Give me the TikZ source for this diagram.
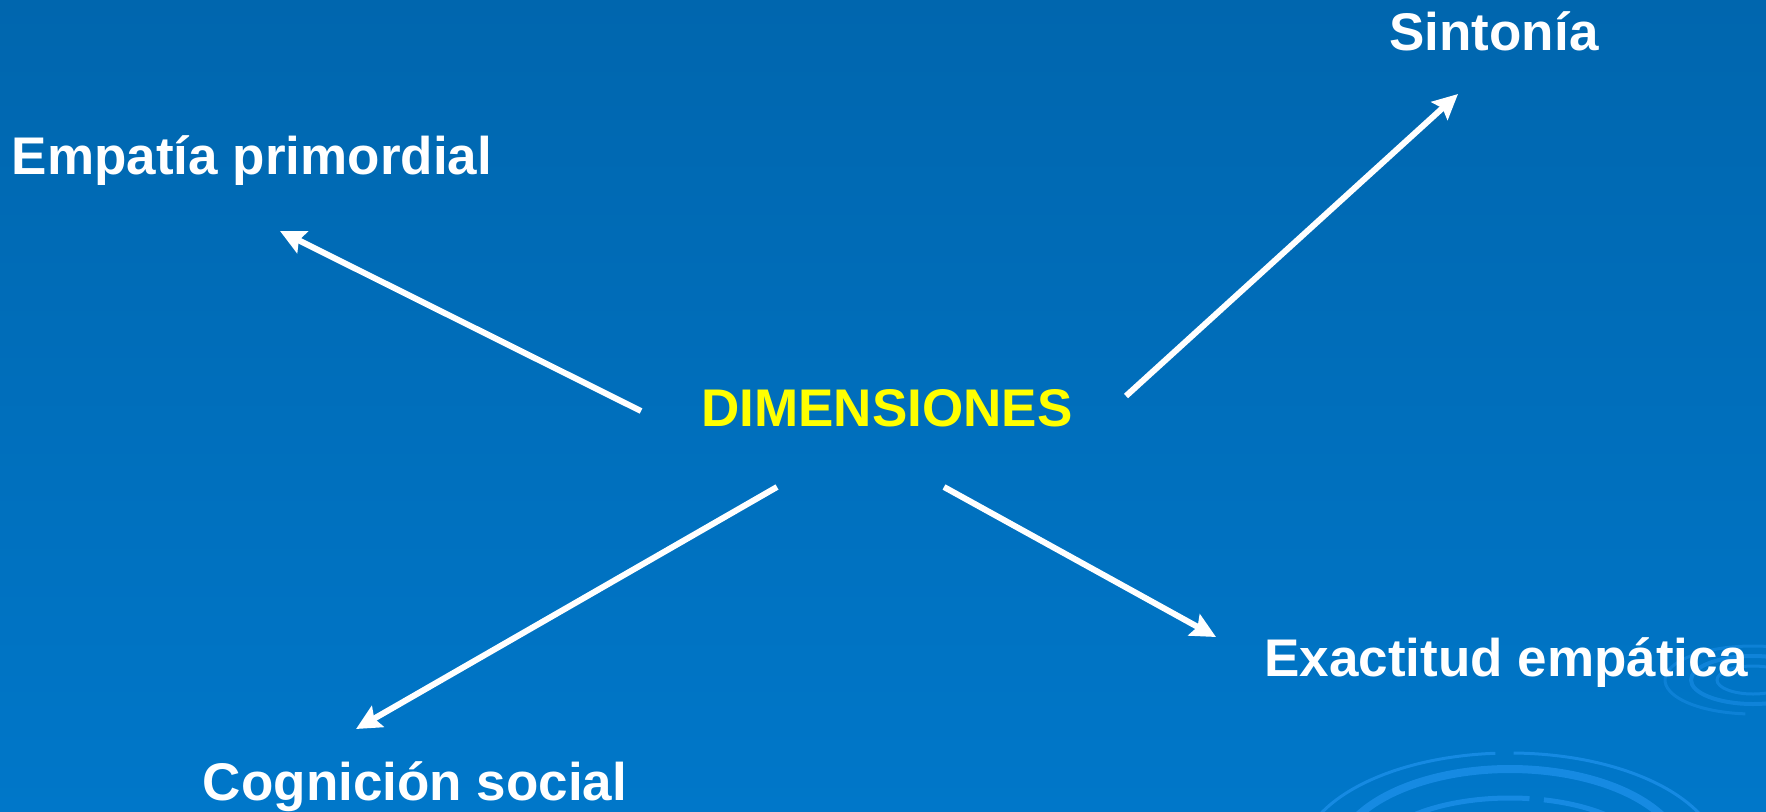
\documentclass[tikz,border=0pt]{standalone}
\usepackage{fontspec}
\setmainfont{Liberation Sans}
\usetikzlibrary{arrows.meta}
\definecolor{bgtop}{HTML}{0066AE}
\definecolor{bgbot}{HTML}{0077C9}
\definecolor{ripple}{HTML}{168AE2}
\definecolor{lbl}{HTML}{FFFFFF}
\definecolor{hl}{HTML}{FFFF00}
\tikzset{
  lab/.style={font=\fontsize{53}{60}\selectfont\bfseries, text=lbl, inner sep=0pt, anchor=base},
  title/.style={font=\fontsize{53}{60}\selectfont\bfseries, text=hl, inner sep=0pt, anchor=base},
  conn/.style={draw=white, line width=6pt, -{Stealth[width=24pt,length=25pt,inset=4pt]}},
  rip/.style={draw=ripple, line width=4pt},
}
\begin{document}
\begin{tikzpicture}[x=1pt,y=-1pt]
\shade[top color=bgtop, bottom color=bgbot] (0,0) rectangle (1766,811);
\useasboundingbox (0,0) rectangle (1766,811);
% ripples (standard orientation: y up, coordinates given as (x,-y))
\begin{scope}[y=1pt]
\clip (0,0) rectangle (1766,-811);
% small ripple near right edge
\draw[rip, line width=3pt, opacity=0.7] (1753,-680) ellipse [x radius=36, y radius=14];
\draw[rip, line width=4pt, opacity=0.7] (1753,-680) ellipse [x radius=62, y radius=24];
\draw[rip, line width=3pt, opacity=0.6] ([shift={(-95:88 and 34)}]1753,-680) arc [start angle=-95, end angle=-200, x radius=88, y radius=34];
\draw[rip, line width=3pt, opacity=0.6] ([shift={(165:88 and 34)}]1753,-680) arc [start angle=165, end angle=70, x radius=88, y radius=34];
% big ripple at bottom
\draw[rip, line width=3pt] ([shift={(170:210 and 107)}]1510,-860) arc [start angle=170, end angle=94, x radius=210, y radius=107];
\draw[rip, line width=3pt] ([shift={(89:210 and 107)}]1510,-860) arc [start angle=89, end angle=10, x radius=210, y radius=107];
\draw[rip, line width=8pt] ([shift={(175:174 and 91)}]1510,-860) arc [start angle=175, end angle=5, x radius=174, y radius=91];
\draw[rip, line width=5pt] ([shift={(170:140 and 62)}]1510,-860) arc [start angle=170, end angle=82, x radius=140, y radius=62];
\draw[rip, line width=5pt] ([shift={(76:140 and 62)}]1510,-860) arc [start angle=76, end angle=10, x radius=140, y radius=62];
\end{scope}
% labels
\node[title] (dim) at (887,426) {DIMENSIONES};
\node[lab] (sin) at (1494,50) {Sintonía};
\node[lab] (emp) at (252,174) {Empatía primordial};
\node[lab] (exa) at (1506,676) {Exactitud empática};
\node[lab] (cog) at (415,800) {Cognición social};
% connector end points
\coordinate (s1) at (641,411);
\coordinate (e1) at (280,231);
\coordinate (s2) at (1126,396);
\coordinate (e2) at (1458,94);
\coordinate (s3) at (777,487);
\coordinate (e3) at (356,729);
\coordinate (s4) at (944,487);
\coordinate (e4) at (1216,637);
\draw[conn] (s1) -- (e1);
\draw[conn] (s2) -- (e2);
\draw[conn] (s3) -- (e3);
\draw[conn] (s4) -- (e4);
\end{tikzpicture}
\end{document}
